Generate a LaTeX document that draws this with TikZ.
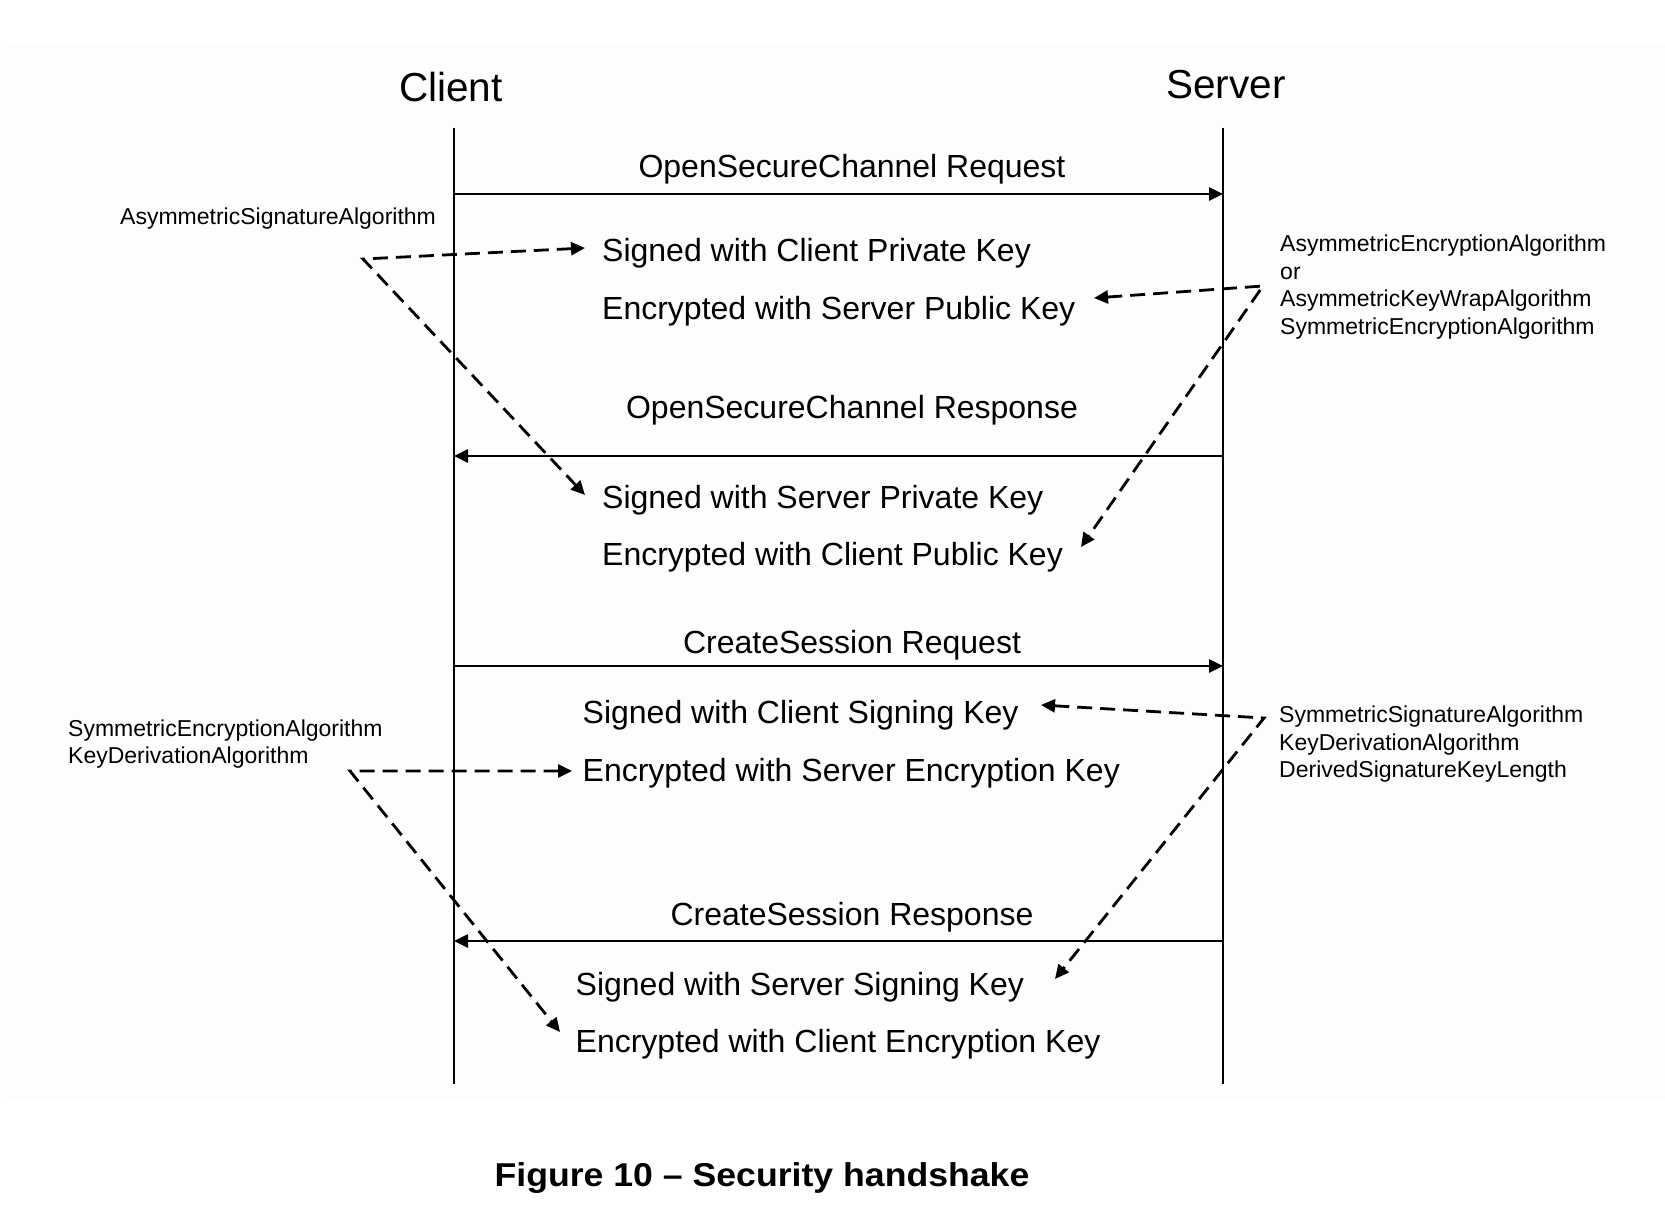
\documentclass[tikz,border=0pt]{standalone}
\usepackage{fontspec}
\setmainfont{Liberation Sans}
\usetikzlibrary{arrows.meta}
\begin{document}
\begin{tikzpicture}[x=1pt,y=-1pt,
  txt/.style={inner sep=0pt, font=\fontsize{32}{38}\selectfont},
  msgtxt/.style={txt, anchor=base},
  bodytxt/.style={txt, anchor=base west},
  note/.style={inner sep=0pt, anchor=base west, font=\fontsize{23}{27.5}\selectfont},
  actor/.style={inner sep=0pt, anchor=base, font=\fontsize{40.5}{48}\selectfont},
  lifeline/.style={line width=2pt},
  msg/.style={line width=2.6pt, -{Triangle[length=14pt,width=13pt]}},
  dasharr/.style={line width=2.8pt, dash pattern=on 15pt off 8pt, line join=miter,
    {Triangle[length=14pt,width=13pt]}-{Triangle[length=14pt,width=13pt]}},
]
\useasboundingbox (0,0) rectangle (1665,1217);
\fill[black!0.8] (7,45) rectangle (1665,1100);

% actors
\node[actor] (client) at (451,101.7) {Client};
\node[actor] (server) at (1226,98.5) {Server};

% lifelines
\coordinate (cT) at (454,128);
\coordinate (cB) at (454,1084);
\coordinate (sT) at (1223,128);
\coordinate (sB) at (1223,1084);
\draw[lifeline] (cT) -- (cB);
\draw[lifeline] (sT) -- (sB);

% message anchor points
\coordinate (c1) at (454,194);  \coordinate (s1) at (1223,194);
\coordinate (c2) at (454,456);  \coordinate (s2) at (1223,456);
\coordinate (c3) at (454,666);  \coordinate (s3) at (1223,666);
\coordinate (c4) at (454,941);  \coordinate (s4) at (1223,941);
\draw[msg] (c1) -- (s1);
\draw[msg] (s2) -- (c2);
\draw[msg] (c3) -- (s3);
\draw[msg] (s4) -- (c4);

% message labels
\node[msgtxt] (l1) at (852,178) {OpenSecureChannel Request};
\node[msgtxt] (l2) at (852,418) {OpenSecureChannel Response};
\node[msgtxt] (l3) at (852,653.5) {CreateSession Request};
\node[msgtxt] (l4) at (852,925) {CreateSession Response};

% body texts
\node[bodytxt] (b1) at (602,261) {Signed with Client Private Key};
\node[bodytxt] (b2) at (602,319) {Encrypted with Server Public Key};
\node[bodytxt] (b3) at (602,508.5) {Signed with Server Private Key};
\node[bodytxt] (b4) at (602,565.5) {Encrypted with Client Public Key};
\node[bodytxt] (b5) at (582.5,723) {Signed with Client Signing Key};
\node[bodytxt] (b6) at (582.5,781) {Encrypted with Server Encryption Key};
\node[bodytxt] (b7) at (575.5,995) {Signed with Server Signing Key};
\node[bodytxt] (b8) at (575.5,1052) {Encrypted with Client Encryption Key};

% annotations
\node[note] (nA) at (120,225) {AsymmetricSignatureAlgorithm};
\node[note] (nB) at (1280,251.7) {\begin{tabular}[t]{@{}l@{}}AsymmetricEncryptionAlgorithm\\or\\AsymmetricKeyWrapAlgorithm\\SymmetricEncryptionAlgorithm\end{tabular}};
\node[note] (nC) at (1279,722.7) {\begin{tabular}[t]{@{}l@{}}SymmetricSignatureAlgorithm\\KeyDerivationAlgorithm\\DerivedSignatureKeyLength\end{tabular}};
\node[note] (nD) at (68,736) {\begin{tabular}[t]{@{}l@{}}SymmetricEncryptionAlgorithm\\KeyDerivationAlgorithm\end{tabular}};

% dashed pointer arrows
\coordinate (vA) at (363,259);  \coordinate (tA1) at (585,248);  \coordinate (tA2) at (585,495);
\coordinate (vB) at (1263,286); \coordinate (tB1) at (1094,298); \coordinate (tB2) at (1081,547);
\coordinate (vC) at (1264,718); \coordinate (tC1) at (1041,705); \coordinate (tC2) at (1055,979);
\coordinate (vD) at (350,771);  \coordinate (tD1) at (572,771);  \coordinate (tD2) at (560,1032);
\draw[dasharr] (tA1) -- (vA) -- (tA2);
\draw[dasharr] (tB1) -- (vB) -- (tB2);
\draw[dasharr] (tC1) -- (vC) -- (tC2);
\draw[dasharr] (tD1) -- (vD) -- (tD2);

% caption
\node[inner sep=0pt, anchor=base, font=\bfseries\fontsize{33}{40}\selectfont] (cap) at (762,1186)
  {\scalebox{1.08}[1]{Figure 10 – Security handshake}};
\end{tikzpicture}
\end{document}
